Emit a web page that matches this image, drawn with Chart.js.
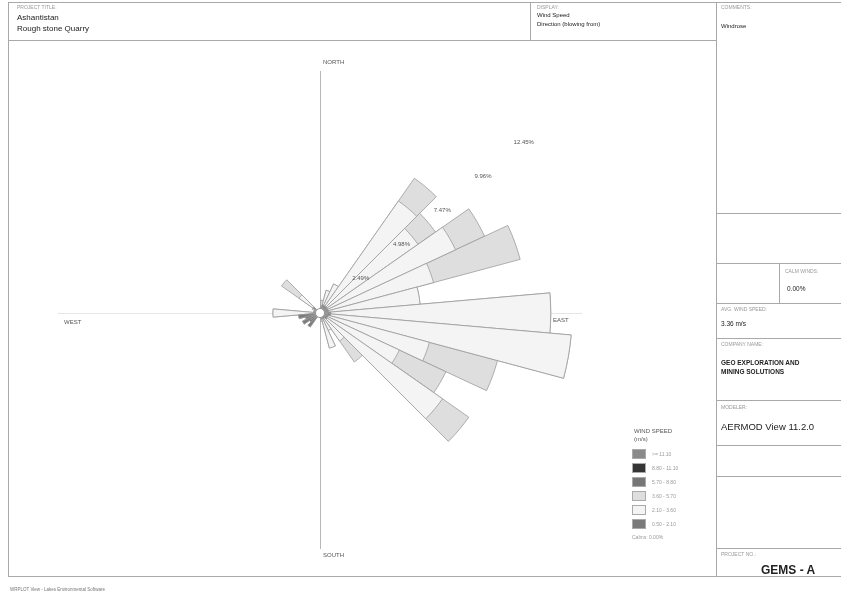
<!DOCTYPE html>
<html>
<head>
<meta charset="utf-8">
<script src="https://cdn.jsdelivr.net/npm/chart.js@4"></script>
<style>
  body { margin: 0; background: #fff; font-family: "Liberation Sans", Arial, sans-serif; }
  #wrap { position: relative; width: 841px; height: 596px; overflow: hidden; }
  #rose { position: absolute; left: 0; top: 0; }
  .ln { position: absolute; background: #a9a9a9; }
  .t { position: absolute; white-space: nowrap; color: #222; }
  .cap { font-size: 5px; color: #999; }
  .val { font-size: 8px; }
  .sw { position: absolute; width: 14px; height: 10px; border: 1px solid #aaa; box-sizing: border-box; }
  .lg { position: absolute; font-size: 5px; color: #999; white-space: nowrap; }
</style>
</head>
<body>
<div id="wrap">
  <canvas id="rose" width="841" height="596"></canvas>

  <!-- frame -->
  <div class="ln" style="left:8px;top:2px;width:833px;height:1px"></div>
  <div class="ln" style="left:8px;top:2px;width:1px;height:574px"></div>
  <div class="ln" style="left:8px;top:576px;width:833px;height:1px"></div>
  <div class="ln" style="left:8px;top:40px;width:708px;height:1px"></div>
  <div class="ln" style="left:530px;top:2px;width:1px;height:38px"></div>
  <div class="ln" style="left:716px;top:2px;width:1px;height:574px"></div>
  <div class="ln" style="left:716px;top:213px;width:125px;height:1px"></div>
  <div class="ln" style="left:716px;top:263px;width:125px;height:1px"></div>
  <div class="ln" style="left:779px;top:263px;width:1px;height:40px"></div>
  <div class="ln" style="left:716px;top:303px;width:125px;height:1px"></div>
  <div class="ln" style="left:716px;top:338px;width:125px;height:1px"></div>
  <div class="ln" style="left:716px;top:400px;width:125px;height:1px"></div>
  <div class="ln" style="left:716px;top:445px;width:125px;height:1px"></div>
  <div class="ln" style="left:716px;top:476px;width:125px;height:1px"></div>
  <div class="ln" style="left:716px;top:548px;width:125px;height:1px"></div>

  <!-- header -->
  <div class="t cap" style="left:17px;top:4px">PROJECT TITLE:</div>
  <div class="t val" style="left:17px;top:13px">Ashantistan</div>
  <div class="t val" style="left:17px;top:24px">Rough stone Quarry</div>
  <div class="t cap" style="left:537px;top:4px">DISPLAY:</div>
  <div class="t" style="left:537px;top:12px;font-size:6px">Wind Speed</div>
  <div class="t" style="left:537px;top:21px;font-size:6px">Direction (blowing from)</div>

  <!-- side panel -->
  <div class="t cap" style="left:721px;top:4px">COMMENTS:</div>
  <div class="t" style="left:721px;top:23px;font-size:6px">Windrose</div>
  <div class="t cap" style="left:785px;top:268px">CALM WINDS:</div>
  <div class="t" style="left:787px;top:285px;font-size:6.5px">0.00%</div>
  <div class="t cap" style="left:721px;top:306px">AVG. WIND SPEED:</div>
  <div class="t" style="left:721px;top:320px;font-size:6.5px">3.36 m/s</div>
  <div class="t cap" style="left:721px;top:341px">COMPANY NAME:</div>
  <div class="t" style="left:721px;top:358px;font-size:6.5px;font-weight:bold;line-height:9px">GEO EXPLORATION AND<br>MINING SOLUTIONS</div>
  <div class="t cap" style="left:721px;top:404px">MODELER:</div>
  <div class="t" style="left:721px;top:421px;font-size:9.5px">AERMOD View 11.2.0</div>
  <div class="t cap" style="left:721px;top:551px">PROJECT NO.:</div>
  <div class="t" style="left:761px;top:563px;font-size:12px;font-weight:bold">GEMS - A</div>

  <div class="t" style="left:10px;top:587px;font-size:4.5px;color:#777">WRPLOT View - Lakes Environmental Software</div>

  <!-- legend -->
  <div class="t" style="left:634px;top:427px;font-size:6px;color:#555;line-height:8px">WIND SPEED<br>(m/s)</div>
  <div id="legend"></div>
</div>

<script>
// directions every 10 degrees, blowing from
const directions = ['N','','','','','','','','','E','','','','','','','','','S','','','','','','','','','W','','','','','','','',''];

// frequency (%) per speed class, index 0 = north, clockwise in 10 degree steps
const calm0to21 = [0.2,0.3,0.4,0.4,0.4,0.4,0.4,0.4,0.4,0.5,0.5,0.4,0.4,0.4,0.3,0.3,0.3,0.2,
                   0.2,0.1,0.1,0.2,0.8,0.6,0.9,0.7,1.0,0.3,0.3,0.2,0.2,0.4,0.2,0.1,0.1,0.1];
const speed21to36 = [0,0.3,0.7,1.1,6.0,5.2,6.6,5.1,4.3,10.3,11.3,4.9,3.7,6.6,1.3,0.6,1.4,0.2,
                     0,0,0,0,0,0,0,0,0,1.9,0,0,0.2,0.8,0,0,0,0];
const speed36to57 = [0,0,0,0,1.3,1.0,1.5,4.2,0,0,0,3.3,2.4,1.5,1.2,0,0,0,
                     0,0,0,0,0,0,0,0,0,0,0,0,0,1.0,0,0,0,0];

const classLabels = ['>= 11.10', '8.80 - 11.10', '5.70 - 8.80', '3.60 - 5.70', '2.10 - 3.60', '0.50 - 2.10'];
const classColors = ['#8a8a8a', '#353535', '#767676', '#dedede', '#f4f4f4', '#7a7a7a'];
const ringTicks = [2.49, 4.98, 7.47, 9.96, 12.45];
const calmPct = '0.00%';

// stack the classes so each ring is drawn from the centre
const sum1 = calm0to21.slice();
const sum2 = sum1.map((v, i) => +(v + speed21to36[i]).toFixed(2));
const sum3 = sum2.map((v, i) => +(v + speed36to57[i]).toFixed(2));

// legend
const lg = document.getElementById('legend');
classLabels.forEach((lab, i) => {
  const y = 449 + i * 14;
  lg.insertAdjacentHTML('beforeend',
    `<div class="sw" style="left:632px;top:${y}px;background:${classColors[i]}"></div>` +
    `<div class="lg" style="left:652px;top:${y + 2}px">${lab}</div>`);
});
lg.insertAdjacentHTML('beforeend', `<div class="lg" style="left:632px;top:534px">Calms: ${calmPct}</div>`);

const roseExtras = {
  id: 'roseExtras',
  beforeDatasetsDraw(chart) {
    const s = chart.scales.r;
    const c = chart.ctx;
    const cx = s.xCenter, cy = s.yCenter;
    c.save();
    c.strokeStyle = '#b8b8b8';
    c.lineWidth = 1;
    c.beginPath();
    c.moveTo(cx + 0.5, cy - 242); c.lineTo(cx + 0.5, cy + 236);
    c.stroke();
    c.strokeStyle = '#e6e6e6';
    c.beginPath();
    c.moveTo(cx - 262, cy + 0.5); c.lineTo(cx + 262, cy + 0.5);
    c.stroke();
    c.restore();
  },
  afterDatasetsDraw(chart) {
    const s = chart.scales.r;
    const c = chart.ctx;
    const cx = s.xCenter, cy = s.yCenter;
    c.save();
    // calm circle
    c.fillStyle = '#fff';
    c.strokeStyle = '#888';
    c.lineWidth = 0.8;
    c.beginPath();
    c.arc(cx, cy, 4.5, 0, Math.PI * 2);
    c.fill(); c.stroke();

    c.font = '6px "Liberation Sans", Arial, sans-serif';
    c.fillStyle = '#555';
    c.textBaseline = 'middle';
    c.textAlign = 'left';
    c.fillText('NORTH', cx + 3, cy - 251);
    c.fillText('SOUTH', cx + 3, cy + 242);
    c.fillText('WEST', cx - 256, cy + 9);
    c.fillText('EAST', cx + 233, cy + 7);

    c.textAlign = 'center';
    const a = 50 * Math.PI / 180;
    ringTicks.forEach(v => {
      const r = s.getDistanceFromCenterForValue(v);
      c.fillText(v.toFixed(2) + '%', cx + r * Math.sin(a), cy - r * Math.cos(a));
    });
    c.restore();
  }
};

const ds = (data, color) => ({
  data: data,
  backgroundColor: color,
  borderColor: '#9c9c9c',
  borderWidth: 0.8
});

new Chart(document.getElementById('rose'), {
  type: 'polarArea',
  data: {
    labels: directions,
    datasets: [
      ds(sum1, classColors[5]),
      ds(sum2, classColors[4]),
      ds(sum3, classColors[3])
    ]
  },
  options: {
    responsive: false,
    animation: false,
    layout: { padding: { left: 54, right: 255, top: 47, bottom: 17 } },
    plugins: {
      legend: { display: false },
      tooltip: { enabled: false }
    },
    scales: {
      r: {
        min: 0,
        max: 12.45,
        startAngle: -5,
        grid: { display: false },
        angleLines: { display: false },
        ticks: { display: false },
        pointLabels: { display: false }
      }
    }
  },
  plugins: [roseExtras]
});
</script>
</body>
</html>
